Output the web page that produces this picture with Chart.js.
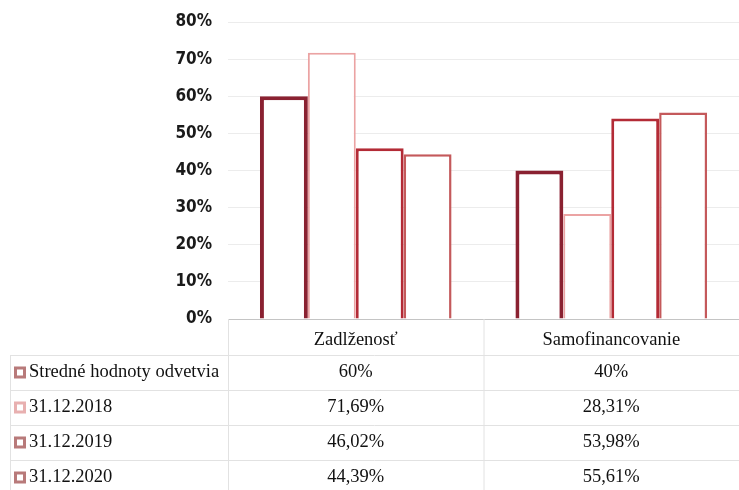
<!DOCTYPE html>
<html>
<head>
<meta charset="utf-8">
<script src="https://cdn.jsdelivr.net/npm/chart.js@4"></script>
<style>
  html, body { margin: 0; padding: 0; background: #fff; }
  #wrap { width: 739px; height: 490px; }
</style>
</head>
<body>
<div id="wrap"><canvas id="ratioChart" width="739" height="490"></canvas></div>
<script>
// categories and series
const categories = ['Zadlženosť', 'Samofinancovanie'];
const seriesNames = ['Stredné hodnoty odvetvia', '31.12.2018', '31.12.2019', '31.12.2020'];
const industryAvg = [0.60, 0.40];
const year2018 = [0.7169, 0.2831];
const year2019 = [0.4602, 0.5398];
const year2020 = [0.4439, 0.5561];
const tableText = [
  ['60%', '40%'],
  ['71,69%', '28,31%'],
  ['46,02%', '53,98%'],
  ['44,39%', '55,61%']
];
const yTicks = [0, 0.1, 0.2, 0.3, 0.4, 0.5, 0.6, 0.7, 0.8];

const borderColors = ['#8a2131', '#eba3a3', '#b32b36', '#c4595b'];
const borderWidths = [4, 2, 3, 2.5];
const markerColors = ['#b87a7a', '#e8b0b0', '#b87a7a', '#b87a7a'];

const sansFont = '"DejaVu Sans Condensed", "Liberation Sans Narrow", sans-serif';
const serifFont = '"Liberation Serif", serif';

// draws the data table under the plot, lined up with the x scale
const tablePlugin = {
  id: 'dataTable',
  afterDraw(chart) {
    const ctx = chart.ctx;
    const x = chart.scales.x;
    const area = chart.chartArea;
    const rowTop = 355;
    const rowH = 35;
    const leftEdge = 10;
    const colEdges = [area.left, (x.getPixelForValue(0) + x.getPixelForValue(1)) / 2, area.right];

    ctx.save();
    ctx.strokeStyle = '#e2e2e2';
    ctx.lineWidth = 1;
    // vertical lines
    ctx.beginPath();
    ctx.moveTo(colEdges[0] + 0.5, area.bottom);
    ctx.lineTo(colEdges[0] + 0.5, 490);
    ctx.moveTo(colEdges[1] + 0.5, area.bottom);
    ctx.lineTo(colEdges[1] + 0.5, 490);
    ctx.moveTo(leftEdge + 0.5, rowTop);
    ctx.lineTo(leftEdge + 0.5, 490);
    // horizontal lines
    for (let r = 0; r < seriesNames.length; r++) {
      const yy = Math.round(rowTop + r * rowH) + 0.5;
      ctx.moveTo(leftEdge, yy);
      ctx.lineTo(area.right, yy);
    }
    ctx.stroke();

    ctx.textBaseline = 'middle';
    ctx.font = '18.5px ' + serifFont;
    for (let r = 0; r < seriesNames.length; r++) {
      const cy = rowTop + r * rowH + rowH / 2;
      // legend marker
      ctx.fillStyle = markerColors[r];
      ctx.fillRect(leftEdge + 4, cy - 6, 12, 12);
      ctx.fillStyle = '#fff';
      ctx.fillRect(leftEdge + 7, cy - 3, 6, 6);
      ctx.fillStyle = '#111';
      ctx.textAlign = 'left';
      ctx.fillText(seriesNames[r], leftEdge + 19, cy);
      ctx.textAlign = 'center';
      for (let c = 0; c < categories.length; c++) {
        ctx.fillText(tableText[r][c], x.getPixelForValue(c), cy);
      }
    }
    ctx.restore();
  }
};

const seriesValues = [industryAvg, year2018, year2019, year2020];

new Chart(document.getElementById('ratioChart'), {
  type: 'bar',
  data: {
    labels: categories,
    datasets: seriesValues.map((vals, i) => ({
      label: seriesNames[i],
      data: vals,
      backgroundColor: '#ffffff',
      borderColor: borderColors[i],
      borderWidth: borderWidths[i],
      borderSkipped: 'start',
      categoryPercentage: 0.75,
      barPercentage: 1.0
    }))
  },
  options: {
    responsive: false,
    animation: false,
    layout: { padding: { top: 22, right: 0, left: 0, bottom: 0 } },
    plugins: {
      legend: { display: false },
      tooltip: { enabled: false }
    },
    scales: {
      x: {
        grid: { display: false },
        border: { display: false },
        ticks: {
          color: '#111',
          font: { family: serifFont, size: 18.5 },
          padding: 2
        },
        afterFit(scale) {
          scale.height = 171;
          scale.paddingLeft = 0;
          scale.paddingRight = 0;
        }
      },
      y: {
        min: 0,
        max: 0.8,
        afterBuildTicks(scale) { scale.ticks = yTicks.map(v => ({ value: v })); },
        grid: {
          color: ctx => (ctx.tick && ctx.tick.value === 0 ? '#c4c4c4' : '#ececec'),
          drawTicks: false
        },
        border: { display: false },
        ticks: {
          color: '#1a1a1a',
          padding: 16,
          font: { family: sansFont, size: 17, weight: 'bold' },
          callback: v => Math.round(v * 100) + '%'
        },
        afterFit(scale) {
          scale.width = 228;
          scale.paddingTop = 0;
          scale.paddingBottom = 0;
        }
      }
    }
  },
  plugins: [tablePlugin]
});
</script>
</body>
</html>
